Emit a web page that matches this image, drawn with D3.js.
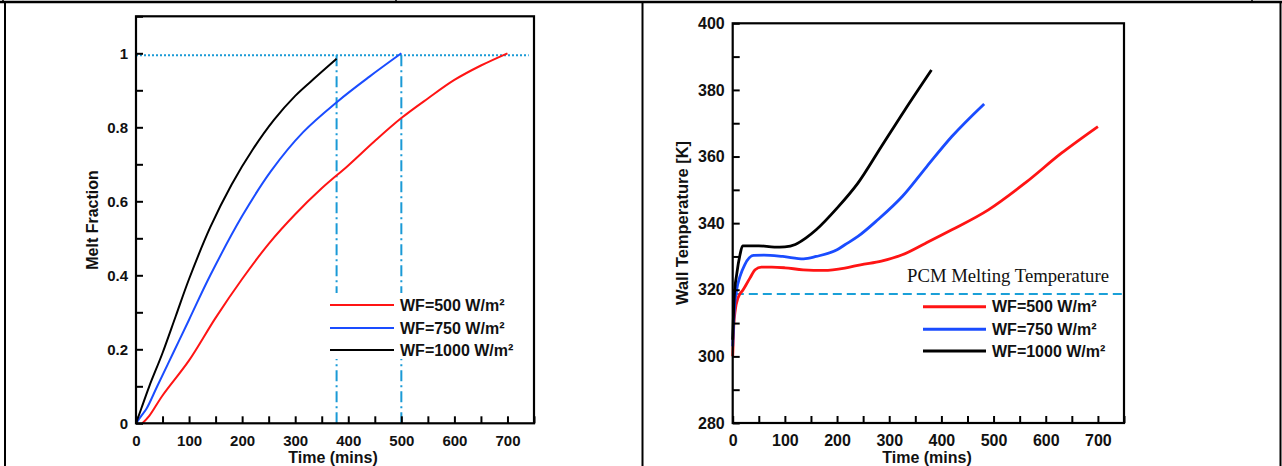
<!DOCTYPE html>
<html>
<head>
<meta charset="utf-8">
<script src="https://cdn.jsdelivr.net/npm/d3@7"></script>
<style>
  body { margin: 0; background: #fff; }
  text { font-family: "Liberation Sans", Arial, sans-serif; fill: #111; }
  text.serif { font-family: "Liberation Serif", "Times New Roman", serif; }
</style>
</head>
<body>
<div id="chart"></div>
<script>
// melt fraction (left panel)
var meltTime500 = [12, 25, 50, 100, 150, 200, 250, 300, 350, 400, 450, 500, 550, 600, 650, 700];
var melt500 = [0, 0.02, 0.075, 0.17, 0.285, 0.39, 0.485, 0.565, 0.635, 0.697, 0.763, 0.825, 0.878, 0.928, 0.967, 1.0];
var meltTime750 = [0, 10, 20, 40, 70, 100, 140, 200, 255, 315, 380, 440, 500];
var melt750 = [0, 0.02, 0.04, 0.10, 0.19, 0.28, 0.40, 0.56, 0.683, 0.787, 0.87, 0.937, 1.0];
var meltTime1000 = [0, 10, 25, 50, 75, 100, 140, 180, 220, 260, 300, 340, 378];
var melt1000 = [0, 0.04, 0.10, 0.19, 0.29, 0.39, 0.53, 0.645, 0.74, 0.82, 0.885, 0.937, 0.985];

// wall temperature (right panel)
var tempTime500 = [0, 2, 5, 10, 20, 33, 43, 55, 75, 100, 135, 175, 215, 245, 285, 325, 370, 420, 490, 560, 630, 700];
var temp500 = [300, 309, 314, 317.5, 320, 323.5, 326, 326.8, 326.8, 326.6, 326, 325.8, 326.5, 327.5, 328.6, 330.5, 334, 338, 344, 352, 361, 369];
var tempTime750 = [0, 3, 7, 14, 23, 40, 60, 96, 136, 160, 200, 215, 240, 278, 325, 372, 420, 482];
var temp750 = [303, 314, 319.5, 324, 327.5, 330.3, 330.4, 330, 329.3, 330, 332, 333.5, 336, 341, 348, 357, 366, 375.8];
var tempTime1000 = [0, 3, 8, 14, 19, 50, 80, 100, 120, 140, 160, 200, 240, 285, 330, 381];
var temp1000 = [305, 318, 325, 330.5, 333.2, 333.2, 332.8, 332.9, 333.6, 335.5, 338, 344.5, 352, 363, 374, 386];

var seriesNames = ["WF=500 W/m²", "WF=750 W/m²", "WF=1000 W/m²"];
var seriesColors = ["#ff1414", "#1a4cff", "#000000"];

var xTicks = d3.range(0, 751, 50);
var meltTicks = d3.range(0, 12).map(d => d / 10);
var tempTicks = d3.range(280, 401, 10);

// reference marks
var meltFullLevel = 0.995;
var meltFullTimes = [378, 500];
var pcmMeltTemp = 318.7;
var pcmLabel = "PCM Melting Temperature";

var svgWidth = 1282;
var svgHeight = 466;

var svg = d3.select("#chart")
  .append("svg")
  .attr("width", svgWidth)
  .attr("height", svgHeight);

drawTable();
drawMelt();
drawTemp();

function drawTable() {
  var g = svg.append("g").attr("stroke", "#000");
  g.append("line").attr("x1", 0).attr("x2", svgWidth).attr("y1", 2).attr("y2", 2).attr("stroke-width", 2.5);
  [3, 396, 1252].forEach(x => {
    g.append("line").attr("x1", x).attr("x2", x).attr("y1", 0).attr("y2", 2).attr("stroke-width", 1.5);
  });
  [5, 642.5, 1280.5].forEach(x => {
    g.append("line").attr("x1", x).attr("x2", x).attr("y1", 2).attr("y2", svgHeight).attr("stroke-width", 2);
  });
}

function axes(g, x, y, yVals, yFmt, xFont, yFont) {
  var xAxis = d3.axisBottom(x)
    .tickValues(xTicks)
    .tickSizeInner(-7)
    .tickSizeOuter(0)
    .tickPadding(12)
    .tickFormat(d => d % 100 === 0 ? d : "");

  var yAxis = d3.axisLeft(y)
    .tickValues(yVals)
    .tickSizeInner(-7)
    .tickSizeOuter(0)
    .tickPadding(8)
    .tickFormat(yFmt);

  var xg = g.append("g")
    .attr("transform", `translate(0, ${y.range()[0]})`)
    .call(xAxis);
  var yg = g.append("g")
    .attr("transform", `translate(${x.range()[0]}, 0)`)
    .call(yAxis);

  [xg, yg].forEach(a => {
    a.select(".domain").remove();
    a.selectAll(".tick line").attr("stroke", "#000").attr("stroke-width", 2);
    a.selectAll("text").attr("font-weight", "bold").attr("fill", "#111");
  });
  xg.selectAll("text").attr("font-size", xFont + "px");
  yg.selectAll("text").attr("font-size", yFont + "px");

  g.append("rect")
    .attr("x", x.range()[0])
    .attr("y", y.range()[1])
    .attr("width", x.range()[1] - x.range()[0])
    .attr("height", y.range()[0] - y.range()[1])
    .attr("fill", "none")
    .attr("stroke", "#000")
    .attr("stroke-width", 2.2);
}

function titles(g, xTitle, xc, yTitle, yx, yc, ySize) {
  g.append("text")
    .attr("x", xc)
    .attr("y", 463)
    .attr("text-anchor", "middle")
    .attr("font-weight", "bold")
    .attr("font-size", "16px")
    .text(xTitle);

  g.append("text")
    .attr("transform", `translate(${yx}, ${yc}) rotate(-90)`)
    .attr("text-anchor", "middle")
    .attr("dy", "0.35em")
    .attr("font-weight", "bold")
    .attr("font-size", ySize + "px")
    .text(yTitle);
}

function legend(g, x0, x1, tx, ys, lw) {
  seriesNames.forEach((name, i) => {
    g.append("line")
      .attr("x1", x0).attr("x2", x1)
      .attr("y1", ys[i]).attr("y2", ys[i])
      .attr("stroke", seriesColors[i])
      .attr("stroke-width", lw);
    g.append("text")
      .attr("x", tx)
      .attr("y", ys[i])
      .attr("dy", "0.36em")
      .attr("font-weight", "bold")
      .attr("font-size", "16px")
      .text(name);
  });
}

function drawMelt() {
  var g = svg.append("g");
  var x = d3.scaleLinear().domain([0, 750]).range([136, 534]);
  var y = d3.scaleLinear().domain([0, 1.1]).range([423.3, 16.3]);

  var line = d3.line()
    .x(d => x(d[0]))
    .y(d => y(d[1]))
    .curve(d3.curveCatmullRom.alpha(0.5));

  // dotted full-melt level and dash-dot completion times
  g.append("line")
    .attr("x1", x(0)).attr("x2", x(740))
    .attr("y1", y(meltFullLevel)).attr("y2", y(meltFullLevel))
    .attr("stroke", "#1a9ad6")
    .attr("stroke-width", 2)
    .attr("stroke-dasharray", "2,2");

  g.selectAll(".vref")
    .data(meltFullTimes)
    .enter()
    .append("line")
    .attr("x1", d => x(d)).attr("x2", d => x(d))
    .attr("y1", y(meltFullLevel)).attr("y2", y(0))
    .attr("stroke", "#1a9ad6")
    .attr("stroke-width", 2)
    .attr("stroke-dasharray", "11,4,2,4");

  var sets = [
    d3.zip(meltTime500, melt500),
    d3.zip(meltTime750, melt750),
    d3.zip(meltTime1000, melt1000)
  ];
  sets.forEach((s, i) => {
    g.append("path")
      .attr("d", line(s))
      .attr("fill", "none")
      .attr("stroke", seriesColors[i])
      .attr("stroke-width", 2);
  });

  axes(g, x, y, meltTicks, d => (Math.round(d * 10) % 2 === 1) ? "" : d3.format("~g")(d), 15, 15);
  titles(g, "Time (mins)", 333, "Melt Fraction", 92, 220, 16);

  g.append("rect")
    .attr("x", 326).attr("y", 293)
    .attr("width", 196).attr("height", 66)
    .attr("fill", "#fff");
  legend(g, 330, 394, 400, [305, 328, 350], 2.2);
}

function drawTemp() {
  var g = svg.append("g");
  var x = d3.scaleLinear().domain([0, 750]).range([732.7, 1124]);
  var y = d3.scaleLinear().domain([280, 400]).range([423, 23.3]);

  var line = d3.line()
    .x(d => x(d[0]))
    .y(d => y(d[1]))
    .curve(d3.curveMonotoneX);

  g.append("line")
    .attr("x1", x(4)).attr("x2", x(750))
    .attr("y1", y(pcmMeltTemp)).attr("y2", y(pcmMeltTemp))
    .attr("stroke", "#1aa0d8")
    .attr("stroke-width", 2)
    .attr("stroke-dasharray", "9,5");

  g.append("text")
    .attr("class", "serif")
    .attr("x", 907)
    .attr("y", 281.5)
    .attr("font-size", "18.5px")
    .attr("textLength", 202)
    .attr("lengthAdjust", "spacingAndGlyphs")
    .text(pcmLabel);

  var sets = [
    d3.zip(tempTime500, temp500),
    d3.zip(tempTime750, temp750),
    d3.zip(tempTime1000, temp1000)
  ];
  sets.forEach((s, i) => {
    g.append("path")
      .attr("d", line(s))
      .attr("fill", "none")
      .attr("stroke", seriesColors[i])
      .attr("stroke-width", 2.8);
  });

  axes(g, x, y, tempTicks, d => d % 20 === 0 ? d : "", 16, 16);
  titles(g, "Time (mins)", 927, "Wall Temperature [K]", 682, 223, 16.5);

  legend(g, 923, 986, 992, [306.7, 329.3, 351], 3);
}
</script>
</body>
</html>
